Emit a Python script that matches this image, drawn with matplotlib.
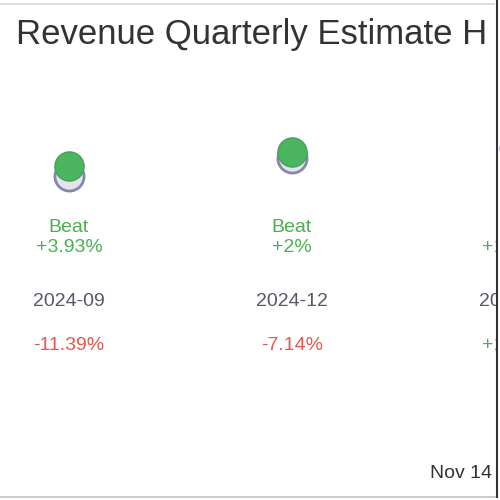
import matplotlib
matplotlib.use("Agg")
import matplotlib.pyplot as plt
from matplotlib.transforms import blended_transform_factory, Bbox
from matplotlib.lines import Line2D

plt.rcParams['font.family'] = ['Liberation Sans', 'DejaVu Sans']

# ---- data ----
quarters = ["2024-09", "2024-12", "2025-03"]
estimates = [100.0, 107.07, 111.0]
actuals = [103.93, 109.43, 112.4]
surprise_labels = ["+3.93%", "+2%", "+1.27%"]
results = ["Beat", "Beat", "Beat"]
price_changes = ["-11.39%", "-7.14%", "+1.32%"]
price_colors = ["#e8564d", "#e8564d", "#4caf50"]
title = "Revenue Quarterly Estimate History"
footer = "Nov 14"

W = H = 500
PX = 2.545  # pixels per data unit (vertical)
fig = plt.figure(figsize=(5, 5), dpi=100)
ax = fig.add_axes([0, 0, 1, 1])
ax.set_axis_off()
# column spacing 223 px, first column at 69 px
ax.set_xlim(-69 / 223, (500 - 69) / 223)
ax.set_ylim(100 - 324 / PX, 100 + 176 / PX)

xs = list(range(len(quarters)))
ax.scatter(xs, estimates, s=440, facecolor="#e4e4ec", edgecolor="#8488ad",
           linewidth=2, zorder=2)
ax.scatter(xs, actuals, s=440, facecolor="#4cb561", edgecolor="#43a357",
           linewidth=1, zorder=3)

tr = blended_transform_factory(ax.transData, fig.transFigure)
def fy(px):
    return 1 - px / H

clip = Bbox.from_extents(0, 0, 496, 500)
title_clip = Bbox.from_extents(0, 0, 489, 500)

green = "#4caf50"
texts = []
for i, q in enumerate(quarters):
    texts.append(ax.text(i, fy(228), results[i], transform=tr, ha="center",
                         va="center", fontsize=14, color=green))
    texts.append(ax.text(i, fy(247), surprise_labels[i], transform=tr, ha="center",
                         va="center", fontsize=14, color=green))
    texts.append(ax.text(i, fy(302), q, transform=tr, ha="center", va="center",
                         fontsize=14, color="#555a66"))
    texts.append(ax.text(i, fy(345), price_changes[i], transform=tr, ha="center",
                         va="center", fontsize=14, color=price_colors[i]))
for t in texts:
    t.set_clip_box(clip)
    t.set_clip_on(True)

tt = fig.text(16 / W, fy(44), title, ha="left", va="baseline", fontsize=25,
              color="#333333")
tt.set_clip_box(title_clip)
tt.set_clip_on(True)
fig.text(430 / W, fy(474), footer, ha="left", va="center", fontsize=14,
         color="#333333")

# frame lines
fig.add_artist(Line2D([0, 494 / W], [fy(4), fy(4)], transform=fig.transFigure,
                      color="#dddddd", linewidth=1.5))
fig.add_artist(Line2D([0, 497 / W], [fy(497), fy(497)], transform=fig.transFigure,
                      color="#cccccc", linewidth=1.5))
fig.add_artist(Line2D([497 / W, 497 / W], [fy(0), fy(497)], transform=fig.transFigure,
                      color="#333333", linewidth=1.5))

fig.savefig("out.png", dpi=100)
